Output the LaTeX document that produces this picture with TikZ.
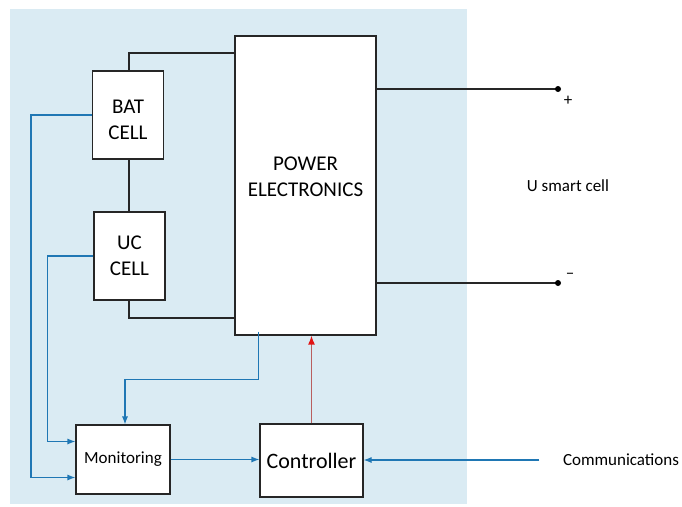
\documentclass[tikz,border=0pt]{standalone}
\usepackage{fontspec}
\setmainfont{Carlito}
\usetikzlibrary{arrows.meta}
\definecolor{cellbg}{RGB}{218,235,243}
\definecolor{sigblue}{RGB}{31,119,180}
\definecolor{ctrlred}{RGB}{185,95,95}
\definecolor{tipred}{RGB}{225,20,20}
\tikzset{
  block/.style={draw=black!85, line width=1.1pt, fill=white, align=center, font=\fontsize{21}{26}\selectfont},
  pwr/.style={line width=2pt, black!85},
  sig/.style={->, line width=1.1pt, sigblue},
  lbl/.style={font=\fontsize{17}{20}\selectfont},
  term/.style={font=\fontsize{17}{20}\selectfont}
}

\begin{document}
\begin{tikzpicture}[x=1pt,y=-1pt,>={Latex[length=8pt,width=6pt]}]
  \useasboundingbox (0,0) rectangle (682,506);
  \fill[cellbg] (10,9) rectangle (467,504);
  % blocks
  \node[block, minimum width=71pt, minimum height=88pt] (bat) at (128,115) {};
  \node[align=center, font=\fontsize{21}{26}\selectfont] (battxt) at ([yshift=-5pt]bat.center) {BAT\\CELL};
  \node[block, minimum width=71pt, minimum height=88pt] (uc) at (129.5,256) {UC\\CELL};
  \node[block, minimum width=141pt, minimum height=299pt] (pe) at (305.5,185.5) {};
  \node[align=center, font=\fontsize{21}{26}\selectfont] (petxt) at ([yshift=9pt]pe.center) {POWER\\ELECTRONICS};
  \node[block, minimum width=94pt, minimum height=69pt, font=\fontsize{17}{20}\selectfont] (mon) at (123,459.5) {Monitoring};
  \node[block, minimum width=103pt, minimum height=73pt, font=\fontsize{22}{26}\selectfont] (ctrl) at (311.5,460.5) {Controller};
  % outside labels
  \node[lbl] (usc) at (568,186) {U smart cell};
  \node[lbl] (comm) at (621,460) {Communications};
  \coordinate (pplus) at (558,89);
  \coordinate (pminus) at (558,283);
  \node[term] (plus) at (568,101) {+};
  \node[term] (minus) at (570,276) {\textendash};
  % power wiring
  \draw[pwr] (bat.north -| 129,0) |- ([yshift=-18pt]pe.north west);
  \draw[pwr] (bat.south -| 129,0) -- (uc.north -| 129,0);
  \draw[pwr] (uc.south -| 129,0) |- ([yshift=18pt]pe.south west);
  \draw[pwr] (pplus -| pe.east) -- (pplus);
  \draw[pwr] (pminus -| pe.east) -- (pminus);
  \fill (pplus) circle (3pt);
  \fill (pminus) circle (3pt);
  % measurements and control
  \draw[sig] ([xshift=24pt,yshift=4pt]pe.south west) -- ++(0,48) -| ([xshift=2pt]mon.north);
  \draw[sig] (bat.west) -- ++(-61,0) |- ([yshift=-18pt]mon.west);
  \draw[sig] (uc.west) -- ++(-46,0) |- ([yshift=18pt]mon.west);
  \draw[sig] (mon.east) -- (ctrl.west |- mon.east);
  \draw[sig] ([xshift=-20pt]comm.west) -- (ctrl.east |- comm.west);
  \draw[ctrlred, line width=1.5pt, -{Latex[length=9pt,width=7pt,tipred]}] (ctrl.north) -- (ctrl.north |- pe.south);
\end{tikzpicture}
\end{document}
